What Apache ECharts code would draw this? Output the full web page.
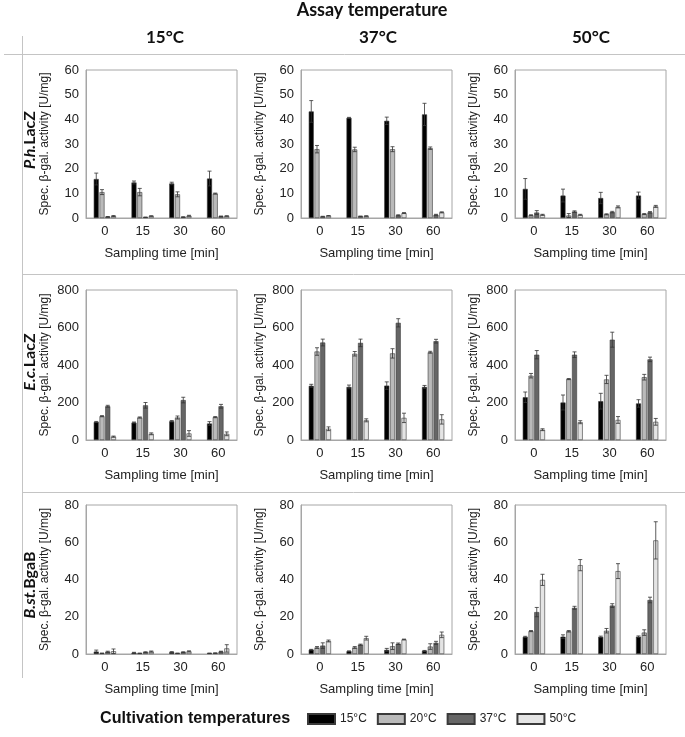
<!DOCTYPE html>
<html>
<head>
<meta charset="utf-8">
<script src="https://cdn.jsdelivr.net/npm/echarts@6/dist/echarts.min.js"></script>
<style>
  html, body { margin: 0; padding: 0; background: #fff; }
  #chart { width: 685px; height: 737px; }
</style>
</head>
<body>
<div id="chart"></div>
<script>
// sampling times, cultivation temps (series), assay temps (columns), enzymes (rows)
var samplingTimes = ['0', '15', '30', '60'];
var cultTemps = ['15°C', '20°C', '37°C', '50°C'];
var assayTemps = ['15°C', '37°C', '50°C'];
var enzymeGenus = ['P.h.', 'E.c.', 'B.st.'];
var enzymeName = ['LacZ', 'LacZ', 'BgaB'];
var yMax = [60, 800, 80];
var yStep = [10, 200, 20];

// rows of each array = cultivation temp 15/20/37/50, columns = sampling time 0/15/30/60
var phLacZ15Mean = [[15.8, 14.4, 14.0, 16.0], [10.5, 10.5, 9.6, 9.9], [0.5, 0.3, 0.4, 0.7], [0.8, 0.8, 0.9, 0.8]];
var phLacZ15Err  = [[2.4, 0.6, 0.5, 3.0], [1.0, 1.5, 1.0, 0.2], [0.1, 0.1, 0.1, 0.1], [0.2, 0.1, 0.2, 0.1]];
var phLacZ37Mean = [[43.2, 40.6, 39.4, 42.0], [27.9, 27.8, 27.9, 28.3], [0.6, 0.7, 1.1, 1.3], [0.9, 0.8, 2.0, 2.3]];
var phLacZ37Err  = [[4.4, 0.2, 1.5, 4.5], [1.5, 0.9, 1.0, 0.5], [0.1, 0.1, 0.2, 0.2], [0.1, 0.1, 0.2, 0.2]];
var phLacZ50Mean = [[11.8, 9.1, 8.1, 9.1], [1.1, 1.0, 1.5, 1.6], [2.2, 2.6, 2.4, 2.3], [1.3, 1.3, 4.5, 4.7]];
var phLacZ50Err  = [[4.2, 2.6, 2.3, 1.4], [0.2, 0.8, 0.2, 0.2], [0.8, 0.3, 0.3, 0.3], [0.2, 0.2, 0.4, 0.4]];

var ecLacZ15Mean = [[96, 93, 100, 88], [127, 120, 120, 122], [180, 185, 213, 180], [18, 33, 35, 33]];
var ecLacZ15Err  = [[3, 3, 4, 10], [3, 3, 8, 3], [5, 15, 15, 10], [3, 5, 15, 10]];
var ecLacZ37Mean = [[289, 283, 290, 283], [472, 460, 462, 468], [520, 518, 625, 527], [60, 105, 118, 110]];
var ecLacZ37Err  = [[8, 10, 20, 8], [20, 12, 25, 5], [18, 20, 22, 10], [10, 8, 25, 25]];
var ecLacZ50Mean = [[228, 200, 207, 195], [343, 325, 323, 335], [455, 455, 535, 430], [55, 95, 107, 97]];
var ecLacZ50Err  = [[28, 40, 42, 20], [12, 3, 22, 15], [22, 15, 40, 12], [5, 8, 18, 18]];

var bstBgaB15Mean = [[1.3, 0.7, 1.0, 0.4], [0.4, 0.4, 0.4, 0.5], [1.2, 1.0, 1.0, 1.3], [1.5, 1.3, 1.4, 3.0]];
var bstBgaB15Err  = [[0.8, 0.2, 0.3, 0.1], [0.1, 0.1, 0.1, 0.1], [0.3, 0.2, 0.2, 0.2], [1.2, 0.3, 0.3, 2.0]];
var bstBgaB37Mean = [[2.3, 1.5, 2.2, 1.7], [3.5, 3.5, 4.2, 4.0], [4.5, 5.0, 5.5, 6.0], [7.0, 8.5, 7.8, 10.3]];
var bstBgaB37Err  = [[0.2, 0.2, 0.8, 0.2], [0.5, 0.5, 1.8, 1.5], [1.5, 0.3, 0.4, 0.8], [0.5, 1.0, 0.2, 1.5]];
var bstBgaB50Mean = [[9.2, 9.3, 9.2, 9.3], [12.3, 12.2, 12.5, 11.5], [22.5, 24.8, 26.0, 29.0], [39.8, 47.7, 44.5, 61.0]];
var bstBgaB50Err  = [[0.3, 1.0, 0.4, 0.4], [0.3, 0.4, 1.2, 1.5], [2.5, 0.8, 1.0, 1.5], [3.0, 3.0, 4.0, 10.0]];

var panelMeans = [
  [phLacZ15Mean, phLacZ37Mean, phLacZ50Mean],
  [ecLacZ15Mean, ecLacZ37Mean, ecLacZ50Mean],
  [bstBgaB15Mean, bstBgaB37Mean, bstBgaB50Mean]
];
var panelErrs = [
  [phLacZ15Err, phLacZ37Err, phLacZ50Err],
  [ecLacZ15Err, ecLacZ37Err, ecLacZ50Err],
  [bstBgaB15Err, bstBgaB37Err, bstBgaB50Err]
];

// layout
var colLeft = [86, 301, 515];
var colWidth = 151;
var rowTop = [70, 290, 505];
var rowHeight = [148, 150, 149];
var barColors = ['#000000', '#bababa', '#666666', '#e4e4e4'];
var barW = 5, barGapPct = 0.15;
var axisGrey = '#a6a6a6';
var font = "'Liberation Sans', Arial, sans-serif";
var headFont = "Lato, 'Open Sans', sans-serif";

function barOffset(s) {
  var n = cultTemps.length;
  var total = n * barW * (1 + barGapPct) - barW * barGapPct;
  return -total / 2 + s * barW * (1 + barGapPct) + barW / 2;
}

function renderError(params, api) {
  var cat = api.value(0), s = api.value(1), v = api.value(2), e = api.value(3);
  var x = api.coord([cat, v])[0] + barOffset(s);
  var yt = api.coord([cat, v + e])[1];
  var yb = api.coord([cat, Math.max(v - e, 0)])[1];
  var st = { stroke: '#333', lineWidth: 0.8 };
  return {
    type: 'group',
    children: [
      { type: 'line', shape: { x1: x, y1: yt, x2: x, y2: yb }, style: st },
      { type: 'line', shape: { x1: x - 2, y1: yt, x2: x + 2, y2: yt }, style: st },
      { type: 'line', shape: { x1: x - 2, y1: yb, x2: x + 2, y2: yb }, style: st }
    ]
  };
}

var grids = [], xAxes = [], yAxes = [], series = [];
for (var r = 0; r < 3; r++) {
  for (var c = 0; c < 3; c++) {
    var idx = r * 3 + c;
    grids.push({
      left: colLeft[c], top: rowTop[r], width: colWidth, height: rowHeight[r],
      show: true, borderColor: axisGrey, borderWidth: 1, containLabel: false
    });
    xAxes.push({
      type: 'category', gridIndex: idx, data: samplingTimes,
      axisLine: { lineStyle: { color: axisGrey } },
      axisTick: { show: false },
      axisLabel: { fontSize: 13, color: '#222', fontFamily: font, margin: 7 },
      name: 'Sampling time [min]', nameLocation: 'middle', nameGap: 29,
      nameTextStyle: { fontSize: 13, color: '#222', fontFamily: font }
    });
    yAxes.push({
      type: 'value', gridIndex: idx, min: 0, max: yMax[r], interval: yStep[r],
      axisLine: { show: true, lineStyle: { color: axisGrey } },
      axisTick: { show: false },
      splitLine: { show: false },
      axisLabel: { fontSize: 13, color: '#222', fontFamily: font, margin: 7 },
      name: 'Spec. β-gal. activity [U/mg]', nameLocation: 'middle', nameGap: 35,
      nameTextStyle: { fontSize: 12, color: '#222', fontFamily: font }
    });
    var means = panelMeans[r][c], errs = panelErrs[r][c];
    var errData = [];
    for (var s = 0; s < cultTemps.length; s++) {
      series.push({
        type: 'bar', name: cultTemps[s], xAxisIndex: idx, yAxisIndex: idx,
        data: means[s], barWidth: barW, barGap: (barGapPct * 100) + '%',
        itemStyle: { color: barColors[s], borderColor: '#3a3a3a', borderWidth: 0.6 },
        animation: false
      });
      for (var t = 0; t < samplingTimes.length; t++) {
        errData.push([t, s, means[s][t], errs[s][t]]);
      }
    }
    series.push({
      type: 'custom', xAxisIndex: idx, yAxisIndex: idx, data: errData,
      encode: { x: 0, y: 2 }, renderItem: renderError, z: 5, animation: false,
      silent: true
    });
  }
}

var graphics = [
  { type: 'line', shape: { x1: 4, y1: 54.5, x2: 685, y2: 54.5 }, style: { stroke: '#c4c4c4', lineWidth: 1 } },
  { type: 'line', shape: { x1: 22, y1: 274.5, x2: 685, y2: 274.5 }, style: { stroke: '#c4c4c4', lineWidth: 1 } },
  { type: 'line', shape: { x1: 22, y1: 492.5, x2: 685, y2: 492.5 }, style: { stroke: '#c4c4c4', lineWidth: 1 } },
  { type: 'line', shape: { x1: 22.5, y1: 36, x2: 22.5, y2: 678 }, style: { stroke: '#c4c4c4', lineWidth: 1 } },
  { type: 'text', x: 372, y: 10, style: { text: 'Assay temperature', font: 'bold 18px ' + headFont, fill: '#111', align: 'center', verticalAlign: 'middle' } },
  { type: 'text', x: 100, y: 718, scaleX: 0.95, style: { text: 'Cultivation temperatures', font: 'bold 17px ' + font, fill: '#111', align: 'left', verticalAlign: 'middle' } }
];
var headerX = [165, 378, 591];
for (var c2 = 0; c2 < assayTemps.length; c2++) {
  graphics.push({ type: 'text', x: headerX[c2], y: 38, style: { text: assayTemps[c2], font: 'bold 17px ' + headFont, fill: '#111', align: 'center', verticalAlign: 'middle' } });
}
var rowLabelY = [140, 362, 585];
for (var r2 = 0; r2 < 3; r2++) {
  graphics.push({
    type: 'text', x: 30, y: rowLabelY[r2], rotation: Math.PI / 2,
    style: {
      text: '{i|' + enzymeGenus[r2] + '}{b|' + enzymeName[r2] + '}',
      align: 'center', verticalAlign: 'middle',
      rich: {
        i: { fontStyle: 'italic', fontWeight: 'bold', fontSize: 16, fontFamily: headFont, fill: '#111', lineHeight: 16 },
        b: { fontWeight: 'bold', fontSize: 16, fontFamily: headFont, fill: '#111', lineHeight: 16 }
      }
    }
  });
}

var chart = echarts.init(document.getElementById('chart'), null, { renderer: 'canvas' });
chart.setOption({
  animation: false,
  backgroundColor: '#fff',
  grid: grids,
  xAxis: xAxes,
  yAxis: yAxes,
  legend: {
    data: cultTemps, left: 302, top: 708, icon: 'rect',
    itemWidth: 27, itemHeight: 10, itemGap: 10,
    textStyle: { fontSize: 12, color: '#222', fontFamily: font }
  },
  series: series,
  graphic: graphics
});
</script>
</body>
</html>
